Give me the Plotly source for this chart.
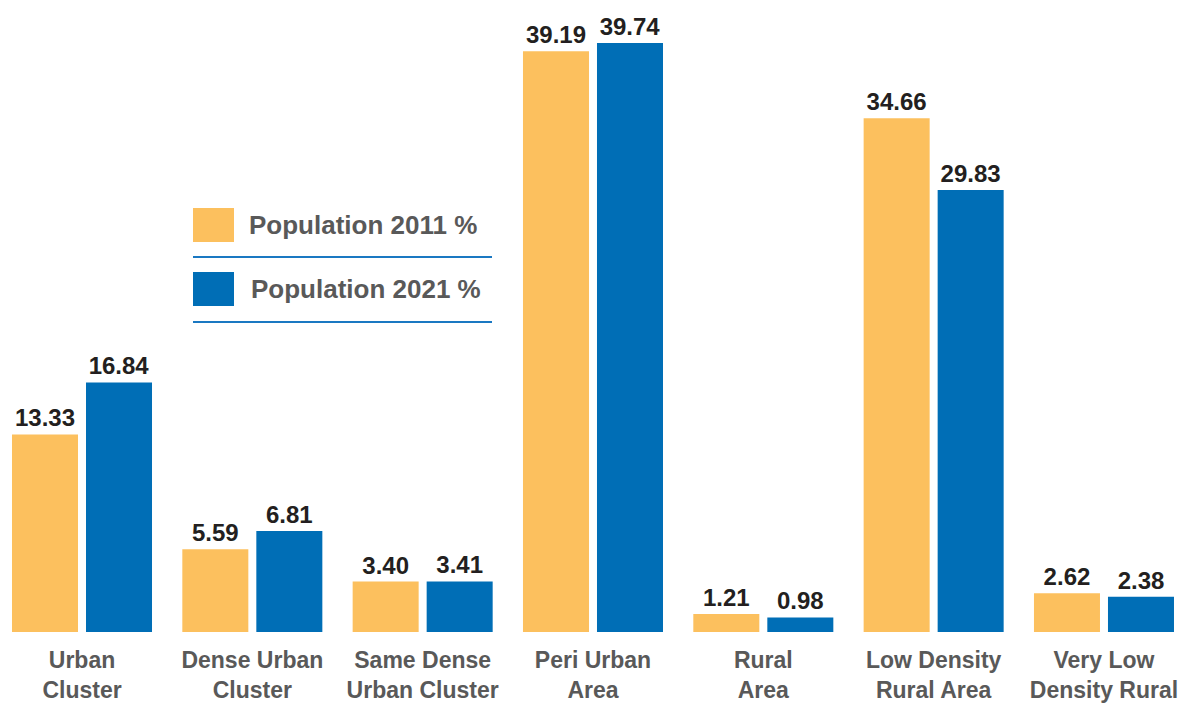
import plotly.graph_objects as go

categories = ["Urban<br>Cluster", "Dense Urban<br>Cluster", "Same Dense<br>Urban Cluster",
              "Peri Urban<br>Area", "Rural<br>Area", "Low Density<br>Rural Area",
              "Very Low<br>Density Rural"]
pop_2011 = [13.33, 5.59, 3.40, 39.19, 1.21, 34.66, 2.62]
pop_2021 = [16.84, 6.81, 3.41, 39.74, 0.98, 29.83, 2.38]
series_names = ["Population 2011 %", "Population 2021 %"]
colors = ["#FCC05E", "#006EB6"]

OFF = 8  # browser body margin
W, H = 1192 - OFF, 705 - OFF
PLOT_BOTTOM = 632 - OFF  # pixel y of baseline in figure coords
PX_PER_UNIT = 14.82

fig = go.Figure()
for name, vals, col in zip(series_names, [pop_2011, pop_2021], colors):
    fig.add_trace(go.Bar(
        x=list(range(len(categories))), y=vals, name=name,
        marker=dict(color=col, line=dict(width=0)),
        text=[f"{v:.2f}" for v in vals], textposition="outside",
        textfont=dict(family="Liberation Sans", size=24, color="#231F20"),
        texttemplate="<b>%{text}</b>", cliponaxis=False, showlegend=False,
    ))

# custom legend (reference pixel coords converted to paper coords)
def px_x(x):
    return (x - OFF) / W

def px_y(y):
    return 1 - (y - OFF) / PLOT_BOTTOM

shapes = []
annotations = []
leg = [(208, 242, 257, 247), (272, 306, 322, 249)]
for (y0, y1, ly, tx), name, col in zip(leg, series_names, colors):
    shapes.append(dict(type="rect", xref="paper", yref="paper",
                       x0=px_x(193), x1=px_x(234), y0=px_y(y1), y1=px_y(y0),
                       fillcolor=col, line=dict(width=0)))
    shapes.append(dict(type="line", xref="paper", yref="paper",
                       x0=px_x(193), x1=px_x(492), y0=px_y(ly), y1=px_y(ly),
                       line=dict(color="#1A78C2", width=2)))
    annotations.append(dict(xref="paper", yref="paper", x=px_x(tx), y=px_y((y0 + y1) / 2),
                            xanchor="left", yanchor="middle", showarrow=False,
                            text=f"<b>{name}</b>",
                            font=dict(family="Liberation Sans", size=26, color="#595959")))

c0 = 82 - OFF
step = 170.33
fig.update_layout(
    width=W, height=H,
    margin=dict(l=0, r=0, t=0, b=H - PLOT_BOTTOM, autoexpand=False),
    plot_bgcolor="white", paper_bgcolor="white",
    barmode="group", bargap=0.131, bargroupgap=0.108,
    shapes=shapes, annotations=annotations,
    xaxis=dict(range=[-c0 / step, (W - c0) / step], tickmode="array",
               tickvals=list(range(len(categories))),
               ticktext=[f"<b>{c}</b>" for c in categories],
               tickfont=dict(family="Liberation Sans", size=23, color="#595959"),
               ticklabelstandoff=12, automargin=False,
               showgrid=False, zeroline=False, showline=False, ticks=""),
    yaxis=dict(range=[0, PLOT_BOTTOM / PX_PER_UNIT], visible=False, showgrid=False),
)

fig.write_html("out.html")
